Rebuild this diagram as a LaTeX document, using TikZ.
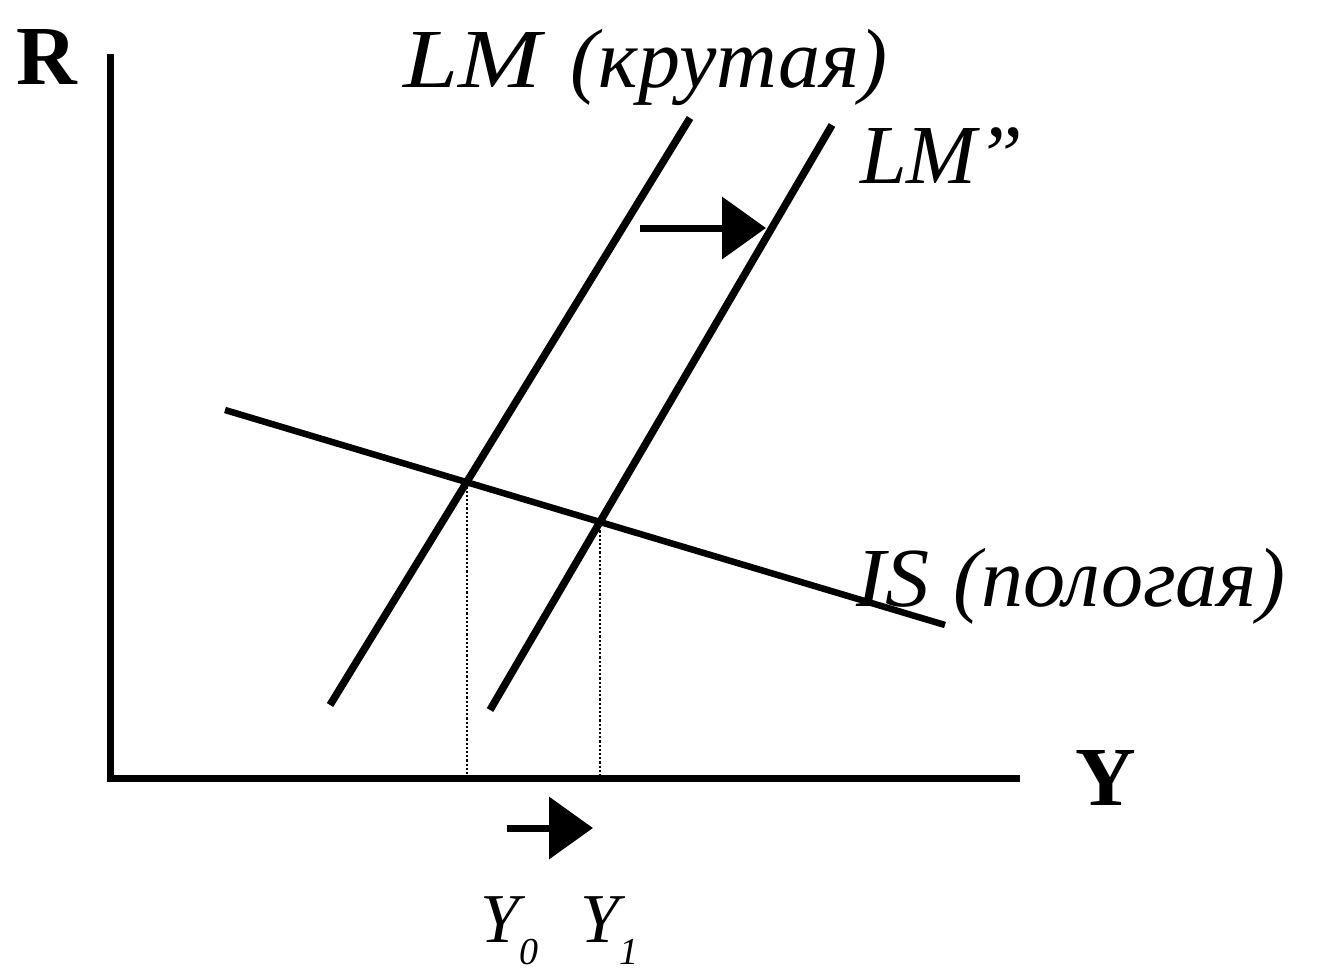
\documentclass[tikz,border=0pt]{standalone}
\usepackage{fontspec}
\setmainfont{Liberation Serif}
\usetikzlibrary{arrows.meta}
\tikzset{
  axis/.style={line width=7pt},
  curve/.style={line width=7.5pt},
  guide/.style={line width=2.2pt, dotted},
  shiftarrow/.style={line width=7pt, -{Triangle[length=44pt,width=61pt]}},
  lbl/.style={font=\fontsize{84}{90}\selectfont\itshape, inner sep=0pt},
  ylbl/.style={font=\fontsize{70}{76}\selectfont\itshape, inner sep=0pt},
  axlbl/.style={font=\fontsize{84}{90}\selectfont\bfseries, inner sep=0pt},
}
\newcommand{\mysub}[1]{\raisebox{-22pt}{\fontsize{38}{40}\selectfont #1}}
\begin{document}
\begin{tikzpicture}[x=1pt,y=-1pt]
\useasboundingbox (0,0) rectangle (1324,979);
% axes
\coordinate (O) at (110,778);
\coordinate (Rtop) at (110,54);
\coordinate (Yend) at (1020,778);
\draw[axis] (Rtop) -- (O) -- (Yend);
\node[axlbl, anchor=base] (R) at (47,85) {R};
\node[axlbl, anchor=base] (Y) at (1106,805) {Y};
% curves
\coordinate (LMa) at (330,705);
\coordinate (LMb) at (690,118);
\coordinate (LMpa) at (490,710);
\coordinate (LMpb) at (832,125);
\coordinate (ISa) at (225,410);
\coordinate (ISb) at (945,625);
\draw[curve] (LMa) -- (LMb);
\draw[curve] (LMpa) -- (LMpb);
\draw[line width=6.5pt] (ISa) -- (ISb);
% equilibria
\coordinate (E0) at (intersection of LMa--LMb and ISa--ISb);
\coordinate (E1) at (intersection of LMpa--LMpb and ISa--ISb);
\coordinate (F0) at (E0 |- O);
\coordinate (F1) at (E1 |- O);
\draw[guide] (E0) -- (F0);
\draw[guide] (E1) -- (F1);
% shift arrows
\coordinate (A1s) at (640,228);
\coordinate (A1e) at (766,228);
\draw[shiftarrow] (A1s) -- (A1e);
\coordinate (A2s) at (507,828);
\coordinate (A2e) at (593,828);
\draw[shiftarrow] (A2s) -- (A2e);
% labels
\node[lbl, anchor=base west] (LMl) at (403,88) {\scalebox{1.18}[1]{LM}\hspace{30pt}(крутая)};
\node[lbl, anchor=base west] (LMpl) at (860,183) {LM”};
\node[lbl, anchor=base west] (ISl) at (856,606) {\scalebox{1.05}[1]{IS}\hspace{24pt}(пологая)};
\node[ylbl, anchor=base west] (Y0) at (480,942) {Y\mysub{0}};
\node[ylbl, anchor=base west] (Y1) at (580,942) {Y\mysub{1}};
\end{tikzpicture}
\end{document}
